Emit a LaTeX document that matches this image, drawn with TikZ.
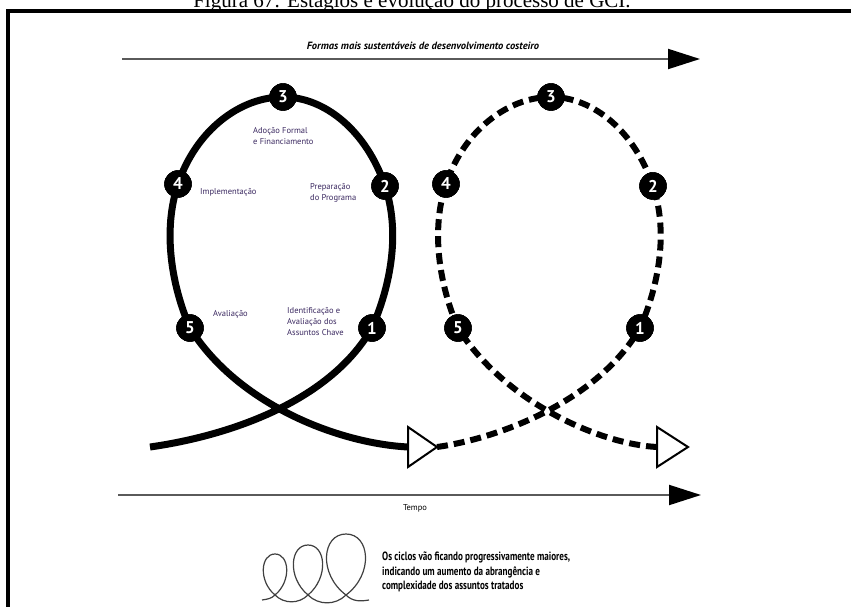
\documentclass[tikz,border=0pt]{standalone}
\usepackage{fontspec}
\setmainfont{Liberation Serif}
\newfontfamily\lblfont{PT Sans}
\newfontfamily\legfont[FakeStretch=0.76]{PT Sans}
\usetikzlibrary{arrows.meta}
\definecolor{lbl}{RGB}{58,40,96}
\definecolor{axisgray}{RGB}{90,90,90}
\begin{document}
\begin{tikzpicture}[x=1pt,y=1pt,
  stage/.style={circle, fill=black, draw=black, inner sep=0pt, minimum size=27pt, text=white, font=\lblfont\bfseries\fontsize{17}{17}\selectfont},
  solidloop/.style={line width=7pt, black},
  dashloop/.style={line width=6pt, black, dash pattern=on 11pt off 6pt},
  tri/.style={draw=black, fill=white, line width=2pt, line join=miter},
  axis/.style={line width=2pt, draw=axisgray, -{Triangle[length=32pt,width=20pt,color=black]}},
  inlbl/.style={anchor=north west, inner sep=0pt, align=left, text=lbl, font=\lblfont\fontsize{8.5}{11}\selectfont},
  icon/.style={line width=1.2pt, draw=black!75},
]
\useasboundingbox (0,0) rectangle (851,606);
\clip (0,0) rectangle (851,606);
\fill[white] (0,0) rectangle (851,606);

% caption (cut off by the page top)
\node[anchor=base, inner sep=0pt, font=\fontsize{21}{21}\selectfont] (cap) at (412,598) {Figura 67: Estágios e evolução do processo de GCI.};

% frame
\draw[line width=4pt] (8,-20) rectangle (900,595);

% axes
\coordinate (tl) at (122,547); \coordinate (tr) at (700,547);
\draw[axis] (tl) -- (tr);
\node[font=\lblfont\bfseries\itshape\fontsize{10.5}{10.5}\selectfont, anchor=base, inner sep=0pt] (toplbl) at (423,556) {Formas mais sustentáveis de desenvolvimento costeiro};

\coordinate (bl) at (118,111); \coordinate (br) at (701,111);
\draw[axis] (bl) -- (br);
\node[font=\lblfont\fontsize{8.5}{8.5}\selectfont, anchor=base, inner sep=0pt] (tempo) at (415,96) {Tempo};

% solid loop stages
\node[stage] (n1) at (372,278) {1};
\node[stage] (n2) at (385,420) {2};
\node[stage] (n3) at (283,509) {3};
\node[stage] (n4) at (178,422) {4};
\node[stage] (n5) at (190,278) {5};
\coordinate (s1) at (150,159);
\coordinate (t1) at (408,159);
\coordinate (t1tip) at (437,159);

% dashed loop stages
\node[stage] (d1) at (640,278) {1};
\node[stage] (d2) at (653,420) {2};
\node[stage] (d3) at (551,509) {3};
\node[stage] (d4) at (446,422) {4};
\node[stage] (d5) at (458,278) {5};
\coordinate (t2) at (657,159);

% loops (stages redrawn on top afterwards)
\draw[solidloop] (s1) .. controls +(8:70) and +(240:90) .. (n1.center)
  .. controls +(19,43.5) and +(15.4,-46) .. (n2.center)
  .. controls +(-18.1,53.9) and +(42.8,0) .. (n3.center)
  .. controls +(-42.8,0) and +(18.1,53.9) .. (n4.center)
  .. controls +(-15.4,-46) and +(-18.8,43.5) .. (n5.center)
  .. controls +(-58:90) and +(177:70) .. (t1);

\draw[dashloop] (t1tip) .. controls +(8:62) and +(240:85) .. (d1.center)
  .. controls +(19,43.5) and +(15.4,-46) .. (d2.center)
  .. controls +(-18.1,53.9) and +(42.8,0) .. (d3.center)
  .. controls +(-42.8,0) and +(18.1,53.9) .. (d4.center)
  .. controls +(-15.4,-46) and +(-18.8,43.5) .. (d5.center)
  .. controls +(-58:85) and +(177:60) .. (t2);

% open triangles
\draw[tri] (t1) -- ++(0,20) -- ++(29,-20) -- ++(-29,-20) -- cycle;
\draw[tri] (t2) -- ++(0,20) -- ++(31,-20) -- ++(-31,-20) -- cycle;

% stages on top
\foreach \n/\t in {n1/1, n2/2, n3/3, n4/4, n5/5, d1/1, d2/2, d3/3, d4/4, d5/5}
  \node[stage] at (\n) {\t};

% inner labels
\node[inlbl] (l3) at (253,479) {Adoção Formal\\e Financiamento};
\node[inlbl] (l4) at (200,418) {Implementação};
\node[inlbl] (l2) at (310,423) {Preparação\\do Programa};
\node[inlbl] (l5) at (213,296) {Avaliação};
\node[inlbl] (l1) at (287,299) {Identificação e\\Avaliação dos\\Assuntos Chave};

% legend icon
\coordinate (c1) at (275,11);
\coordinate (c2) at (308,11);
\coordinate (c3) at (346,11);
\coordinate (i0) at (262,6);
\coordinate (i4) at (369,6);
\draw[icon] (i0) to[out=10,in=225] (c1)
  .. controls +(16.8,14) and +(14.4,0) .. (275,52) .. controls +(-14.4,0) and +(-16.8,14) .. (c1)
  to[out=-45,in=225] (c2)
  .. controls +(21,17.5) and +(18,0) .. (308,61) .. controls +(-18,0) and +(-21,17.5) .. (c2)
  to[out=-45,in=225] (c3)
  .. controls +(28,21) and +(24,0) .. (346,72) .. controls +(-24,0) and +(-28,21) .. (c3)
  to[out=-45,in=190] (i4);

\node[anchor=north west, inner sep=0pt, align=left, font=\legfont\bfseries\fontsize{12}{14.5}\selectfont] (leg) at (382,54)
  {Os ciclos vão ficando progressivamente maiores,\\indicando um aumento da abrangência e\\complexidade dos assuntos tratados};
\end{tikzpicture}
\end{document}
